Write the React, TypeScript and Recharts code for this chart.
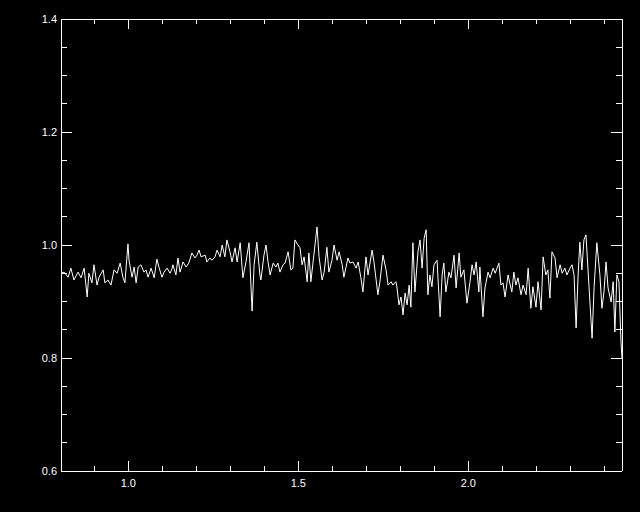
import React from "react";
import { LineChart, Line, XAxis, YAxis } from "recharts";

const xValues: number[] = [
  0.802, 0.811, 0.823, 0.831, 0.840, 0.852, 0.861, 0.870, 0.879, 0.884, 0.893, 0.899, 0.908, 0.914, 0.926, 0.931, 0.940, 0.949, 0.958, 0.967, 0.976, 0.984, 0.990, 0.999, 1.002, 1.011, 1.017, 1.023, 1.029, 1.037, 1.046, 1.052, 1.058, 1.067, 1.076, 1.084, 1.090, 1.099, 1.105, 1.114, 1.123, 1.129,
  1.131, 1.140, 1.146, 1.152, 1.161, 1.170, 1.178, 1.187, 1.196, 1.202, 1.208, 1.214, 1.226, 1.231, 1.240, 1.246, 1.255, 1.261, 1.270, 1.276, 1.284, 1.290, 1.299, 1.305, 1.314, 1.320, 1.329, 1.337, 1.346, 1.355, 1.364, 1.370, 1.378, 1.387, 1.390, 1.399, 1.405, 1.411, 1.417, 1.426, 1.434, 1.440, 1.446, 1.455,
  1.461, 1.470, 1.478, 1.484, 1.490, 1.499, 1.505, 1.511, 1.517, 1.526, 1.531, 1.537, 1.543, 1.555, 1.561, 1.570, 1.576, 1.584, 1.590, 1.599, 1.605, 1.614, 1.620, 1.629, 1.634, 1.646, 1.652, 1.661, 1.670, 1.676, 1.684, 1.690, 1.699, 1.705, 1.717, 1.723, 1.734, 1.740, 1.749, 1.758, 1.764, 1.773, 1.778, 1.787,
  1.790, 1.796, 1.802, 1.808, 1.814, 1.820, 1.826, 1.831, 1.837, 1.843, 1.852, 1.858, 1.864, 1.870, 1.876, 1.881, 1.887, 1.893, 1.899, 1.908, 1.917, 1.923, 1.928, 1.934, 1.943, 1.949, 1.958, 1.964, 1.973, 1.978, 1.987, 1.996, 2.005, 2.011, 2.017, 2.023, 2.031, 2.034, 2.043, 2.049, 2.058, 2.064, 2.073, 2.079, 2.090, 2.096, 2.102, 2.108, 2.117,
  2.120, 2.128, 2.134, 2.140, 2.146, 2.155, 2.161, 2.170, 2.176, 2.184, 2.190, 2.199, 2.205, 2.214, 2.220, 2.228, 2.234, 2.240, 2.246, 2.255, 2.261, 2.270, 2.276, 2.284, 2.290, 2.299, 2.305, 2.311, 2.317, 2.323, 2.328, 2.334, 2.340, 2.346, 2.355, 2.364, 2.370, 2.378, 2.387, 2.393, 2.399, 2.405, 2.411, 2.420, 2.426, 2.431, 2.437, 2.443, 2.449, 2.452,
];

const yValues: number[] = [
  0.950, 0.952, 0.943, 0.959, 0.938, 0.952, 0.942, 0.959, 0.908, 0.950, 0.933, 0.965, 0.929, 0.943, 0.956, 0.933, 0.938, 0.929, 0.956, 0.950, 0.968, 0.943, 0.933, 1.002, 0.973, 0.943, 0.961, 0.933, 0.961, 0.965, 0.952, 0.956, 0.943, 0.959, 0.942, 0.975, 0.961, 0.943, 0.952, 0.959, 0.950, 0.959,
  0.965, 0.947, 0.977, 0.952, 0.970, 0.961, 0.968, 0.986, 0.977, 0.982, 0.991, 0.979, 0.982, 0.970, 0.977, 0.973, 0.979, 0.991, 0.979, 1.000, 0.979, 1.009, 0.988, 0.970, 0.995, 0.970, 1.004, 0.942, 0.970, 1.004, 0.883, 0.965, 1.005, 0.947, 0.938, 0.982, 1.000, 0.970, 0.947, 0.968, 0.961, 0.968, 0.952, 0.965,
  0.968, 0.988, 0.956, 0.959, 1.009, 1.000, 0.995, 0.965, 0.979, 0.935, 0.986, 0.935, 0.968, 1.032, 0.979, 0.938, 0.952, 0.996, 0.952, 0.973, 1.000, 0.973, 0.988, 0.965, 0.943, 0.977, 0.968, 0.970, 0.959, 0.970, 0.942, 0.917, 0.979, 0.947, 0.991, 0.968, 0.912, 0.935, 0.982, 0.956, 0.929, 0.935, 0.929, 0.935,
  0.926, 0.894, 0.908, 0.876, 0.915, 0.894, 0.929, 0.890, 1.004, 0.917, 0.988, 1.009, 0.959, 1.012, 1.027, 0.912, 0.947, 0.926, 0.965, 0.973, 0.873, 0.947, 0.968, 0.917, 0.952, 0.942, 0.982, 0.924, 0.986, 0.943, 0.956, 0.897, 0.935, 0.965, 0.947, 0.970, 0.917, 0.961, 0.873, 0.924, 0.952, 0.942, 0.959, 0.950, 0.968, 0.929, 0.933, 0.908, 0.947,
  0.938, 0.917, 0.952, 0.929, 0.942, 0.912, 0.929, 0.912, 0.959, 0.888, 0.926, 0.890, 0.935, 0.885, 0.979, 0.947, 0.956, 0.906, 0.988, 0.977, 0.942, 0.965, 0.950, 0.959, 0.947, 0.959, 0.965, 0.947, 0.853, 0.947, 1.005, 0.956, 1.009, 1.018, 0.926, 0.835, 0.926, 1.004, 0.947, 0.888, 0.917, 0.970, 0.924, 0.899, 0.935, 0.846, 0.947, 0.935, 0.828, 0.800,
];

const xTicks: number[] = [0.9, 1.0, 1.1, 1.2, 1.3, 1.4, 1.5, 1.6, 1.7, 1.8, 1.9, 2.0, 2.1, 2.2, 2.3, 2.4];
const yTicks: number[] = [0.6, 0.65, 0.7, 0.75, 0.8, 0.85, 0.9, 0.95, 1.0, 1.05, 1.1, 1.15, 1.2, 1.25, 1.3, 1.35, 1.4];

const data = xValues.map((x, i) => ({ x, y: yValues[i] }));

const FONT = "'Liberation Sans', Arial, sans-serif";
const isXMajor = (v: number) => Math.abs(v * 2 - Math.round(v * 2)) < 1e-6;
const isYMajor = (v: number) => Math.abs(v * 5 - Math.round(v * 5)) < 1e-6;

const BottomTick = (props: any) => {
  const { x, y, payload } = props;
  const v = payload.value as number;
  const major = isXMajor(v);
  return (
    <g>
      <line x1={x} y1={y} x2={x} y2={y - (major ? 10 : 5)} stroke="#fff" strokeWidth={1} shapeRendering="crispEdges" />
      {major && (
        <text x={x} y={y + 16} textAnchor="middle" fill="#fff" fontSize={11} fontFamily={FONT}>
          {v.toFixed(1)}
        </text>
      )}
    </g>
  );
};

const TopTick = (props: any) => {
  const { x, y, payload } = props;
  const major = isXMajor(payload.value);
  return <line x1={x} y1={y} x2={x} y2={y + (major ? 10 : 5)} stroke="#fff" strokeWidth={1} shapeRendering="crispEdges" />;
};

const LeftTick = (props: any) => {
  const { x, y, payload } = props;
  const v = payload.value as number;
  const major = isYMajor(v);
  return (
    <g>
      <line x1={x} y1={y} x2={x + (major ? 11 : 6)} y2={y} stroke="#fff" strokeWidth={1} shapeRendering="crispEdges" />
      {major && (
        <text x={x - 4} y={y + 4} textAnchor="end" fill="#fff" fontSize={11} fontFamily={FONT}>
          {v.toFixed(1)}
        </text>
      )}
    </g>
  );
};

const RightTick = (props: any) => {
  const { x, y, payload } = props;
  const major = isYMajor(payload.value);
  return <line x1={x} y1={y} x2={x - (major ? 11 : 6)} y2={y} stroke="#fff" strokeWidth={1} shapeRendering="crispEdges" />;
};

const axisLine = { stroke: "#fff", strokeWidth: 1, shapeRendering: "crispEdges" } as any;

export default function App() {
  return (
    <div style={{ position: "fixed", left: 0, top: 0, width: 640, height: 512, background: "#000" }}>
      <LineChart width={640} height={512} data={data} margin={{ top: 9, right: 8, bottom: 21, left: 31 }}>
        <XAxis
          xAxisId="bottom"
          dataKey="x"
          type="number"
          domain={[0.802, 2.452]}
          ticks={xTicks}
          interval={0}
          height={20}
          tickSize={0}
          tickMargin={0}
          tickLine={false}
          axisLine={axisLine}
          tick={<BottomTick />}
          allowDataOverflow
        />
        <XAxis
          xAxisId="top"
          orientation="top"
          dataKey="x"
          type="number"
          domain={[0.802, 2.452]}
          ticks={xTicks}
          interval={0}
          height={10}
          tickSize={0}
          tickMargin={0}
          tickLine={false}
          axisLine={axisLine}
          tick={<TopTick />}
          allowDataOverflow
        />
        <YAxis
          yAxisId="left"
          type="number"
          domain={[0.6, 1.4]}
          ticks={yTicks}
          interval={0}
          width={30}
          tickSize={0}
          tickMargin={0}
          tickLine={false}
          axisLine={axisLine}
          tick={<LeftTick />}
          allowDataOverflow
        />
        <YAxis
          yAxisId="right"
          orientation="right"
          type="number"
          domain={[0.6, 1.4]}
          ticks={yTicks}
          interval={0}
          width={10}
          tickSize={0}
          tickMargin={0}
          tickLine={false}
          axisLine={axisLine}
          tick={<RightTick />}
          allowDataOverflow
        />
        <Line
          xAxisId="bottom"
          yAxisId="left"
          dataKey="y"
          type="linear"
          stroke="#fff"
          strokeWidth={1}
          dot={false}
          isAnimationActive={false}
        />
      </LineChart>
    </div>
  );
}
